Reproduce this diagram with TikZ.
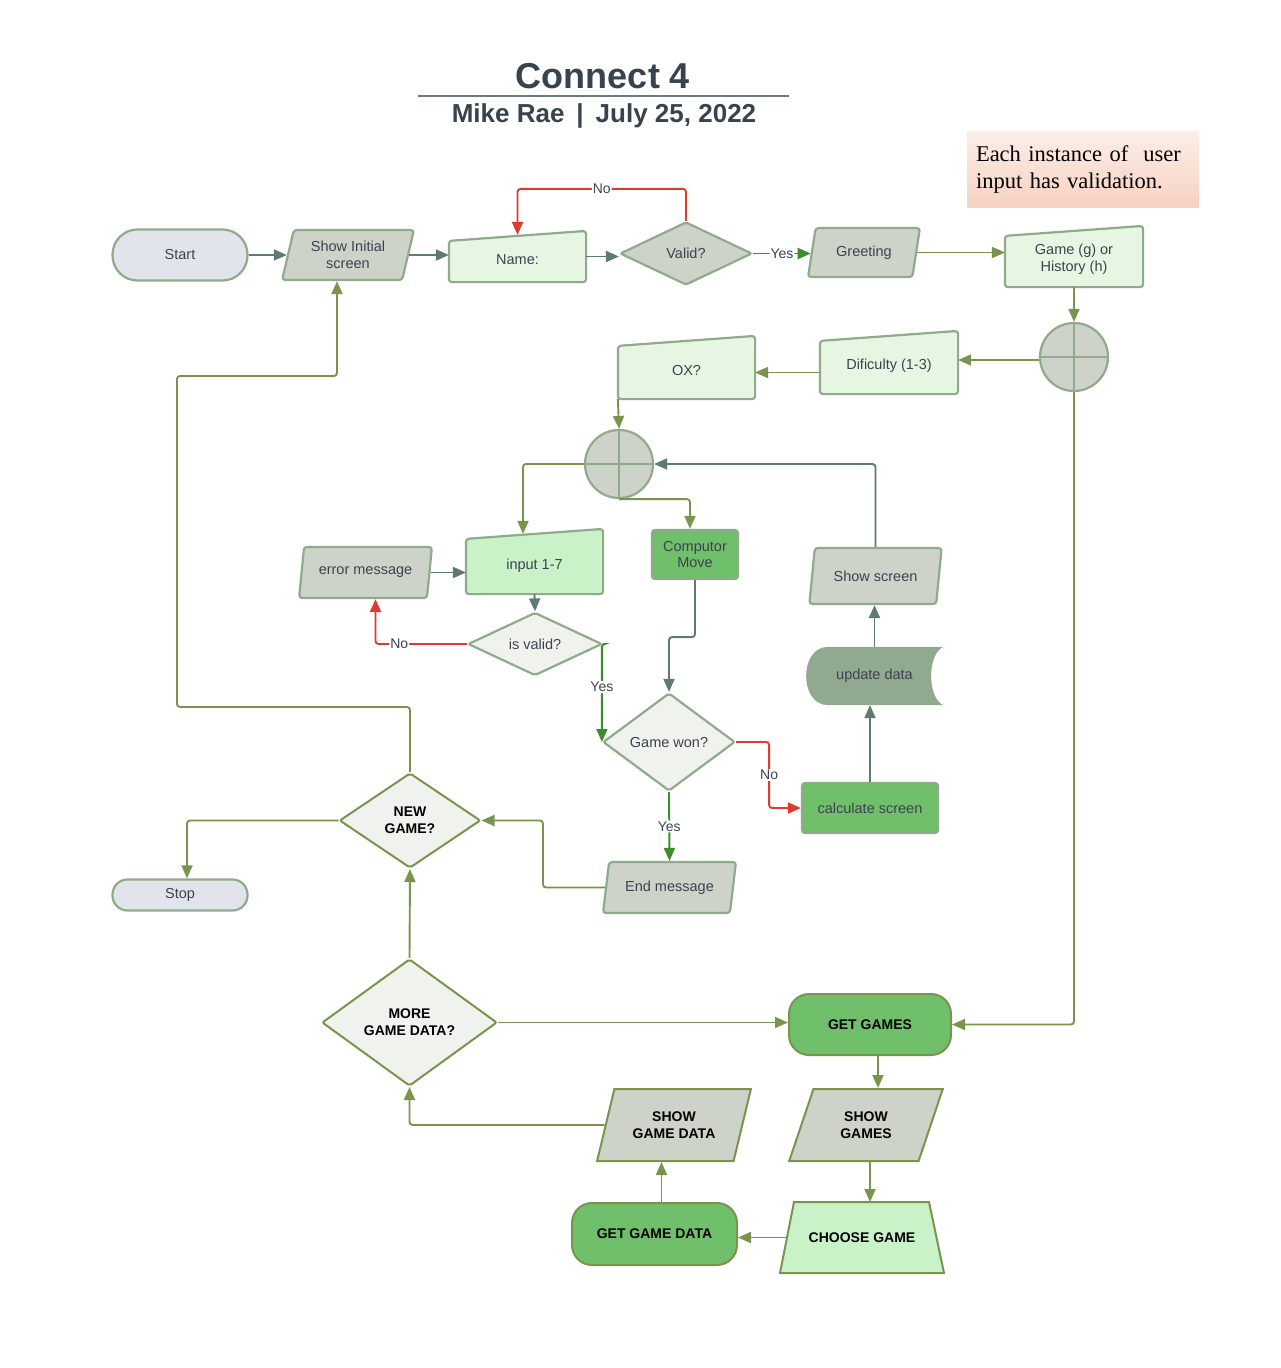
\documentclass[tikz,border=0pt]{standalone}
\usepackage{fontspec}
\setmainfont{Liberation Sans}
\newfontfamily\notefont{Liberation Serif}
\usetikzlibrary{shapes.geometric,arrows.meta,backgrounds}
\definecolor{txt}{HTML}{3C4350}
\definecolor{titlec}{HTML}{39434E}
\definecolor{bgr}{HTML}{8FAB8B}
\definecolor{termfill}{HTML}{E1E4EA}
\definecolor{grayfill}{HTML}{CDD3C8}
\definecolor{lgreen}{HTML}{E6F6E3}
\definecolor{igreen}{HTML}{C9F2C8}
\definecolor{mgreen}{HTML}{70BF6A}
\definecolor{updfill}{HTML}{91A98E}
\definecolor{diafill}{HTML}{F0F2ED}
\definecolor{olive}{HTML}{7B944D}
\definecolor{slate}{HTML}{5E7B73}
\definecolor{redc}{HTML}{E03A2E}
\definecolor{greenc}{HTML}{3A8F2C}
\definecolor{notetop}{HTML}{FBEEE8}
\definecolor{notebot}{HTML}{F7D2C1}
\definecolor{rulec}{HTML}{6E7C79}
\newcommand\mishape[2]{\path[draw=bgr, fill=#2, line width=2.2pt, rounded corners=3pt] (#1.south west) -- ([yshift=-10pt]#1.north west) -- (#1.north east) -- (#1.south east) -- cycle;}
\begin{document}
\begin{tikzpicture}[x=1pt,y=-1pt,
  base/.style={font=\fontsize{14.5}{17}\selectfont, text=txt, align=center, inner sep=2pt, line width=2.2pt},
  term/.style={base, rectangle, rounded corners=25pt, draw=bgr, fill=termfill, minimum width=135pt, minimum height=51pt},
  para/.style={base, trapezium, trapezium left angle=75, trapezium right angle=105, trapezium stretches=true, draw=bgr, fill=grayfill, rounded corners=3pt},
  minode/.style={base, rectangle, minimum width=135pt},
  mitext/.style={base},
  dia/.style={base, diamond, draw=bgr, fill=diafill, inner sep=0pt, rounded corners=2pt},
  junc/.style={circle, draw=bgr, fill=grayfill, minimum size=68pt, inner sep=0pt, line width=2.2pt},
  gbox/.style={base, rectangle, draw=bgr, fill=mgreen, rounded corners=3pt},
  bbase/.style={font=\bfseries\fontsize{14}{17}\selectfont, text=black, align=center, line width=2pt, draw=olive, inner sep=1pt},
  conn/.style={line width=1.9pt, rounded corners=3pt, -{Triangle[length=13pt,width=11pt]}},
  cO/.style={conn, draw=olive},
  cS/.style={conn, draw=slate},
  cR/.style={conn, draw=redc},
  cG/.style={conn, draw=greenc},
  lbl/.style={font=\fontsize{14}{16}\selectfont, text=txt, fill=white, inner sep=1pt}
]
\useasboundingbox (0,0) rectangle (1280,1368);

% title
\node[font=\bfseries\fontsize{36}{40}\selectfont, text=titlec] (title) at (603,76) {Connect 4};
\draw[line width=1.5pt, rulec] (418,96) -- (789,96);
\node[font=\bfseries\fontsize{26}{30}\selectfont, text=titlec] (sub) at (604,116) {Mike Rae\hspace{12pt}|\hspace{12pt}July 25, 2022};

% note
\node[top color=notetop, bottom color=notebot, minimum width=232pt, minimum height=76pt, text width=214pt, inner xsep=9pt, align=left, font=\notefont\fontsize{22.5}{27}\selectfont, text=black] (note) at (1083,169) {Each instance of\ \ user\\input has validation.};

% top row
\node[term] (start) at (180,255) {Start};
\node[para, minimum width=132pt, minimum height=50pt] (show) at (348,255) {Show Initial\\screen};
\node[minode, minimum height=49pt] (name) at (517.5,256.5) {};
\node[mitext] (namet) at ([yshift=-3pt]name.center) {Name:};
\node[dia, fill=grayfill, minimum width=132pt, minimum height=63pt] (valid) at (686,253.5) {Valid?};
\node[para, minimum width=112pt, minimum height=49pt] (greet) at (864,252.5) {Greeting};
\node[minode, minimum width=136pt, minimum height=59pt] (game) at (1074,256.5) {};
\node[mitext] (gamet) at ([yshift=-3pt]game.center) {Game (g) or\\History (h)};
\node[junc] (c1) at (1074,357) {};
\node[minode, minimum width=136pt, minimum height=61pt] (dif) at (889,362.5) {};
\node[mitext] (dift) at ([yshift=-3.5pt]dif.center) {Dificulty (1-3)};
\node[minode, minimum height=61pt] (ox) at (686.5,367.5) {};
\node[mitext] (oxt) at ([yshift=-3.5pt]ox.center) {OX?};
\node[junc] (c2) at (619,464) {};

% middle
\node[gbox, minimum width=86pt, minimum height=49pt] (cm) at (695,554.5) {Computor\\Move};
\node[minode, minimum height=63pt] (inp) at (534.5,561.5) {};
\node[mitext] (inpt) at ([yshift=-4pt]inp.center) {input 1-7};
\node[para, minimum width=133pt, minimum height=51pt] (err) at (365.5,572.5) {error message};
\node[dia, minimum width=134pt, minimum height=52pt] (isv) at (535,644) {is valid?};
\node[para, minimum width=133pt, minimum height=56pt] (ss) at (875.5,576) {Show screen};
\node[minode, minimum height=56pt] (upd) at (874.5,676) {update data};
\node[dia, minimum width=132pt, minimum height=98pt] (gw) at (669,742) {Game won?};
\node[gbox, minimum width=136pt, minimum height=50pt] (calc) at (870,808) {calculate screen};
\node[para, minimum width=133pt, minimum height=51pt] (em) at (669.5,887.5) {End message};
\node[dia, bbase, fill=diafill, minimum width=141pt, minimum height=95pt] (ng) at (410,820.5) {NEW\\GAME?};
\node[term, minimum height=31pt, rounded corners=15pt] (stop) at (180,895) {Stop};

% bottom
\node[dia, bbase, fill=diafill, minimum width=175pt, minimum height=127pt] (mgd) at (409.5,1022.5) {MORE\\GAME DATA?};
\node[bbase, rectangle, rounded corners=20pt, fill=mgreen, minimum width=162pt, minimum height=61pt] (gg) at (870,1024.5) {GET GAMES};
\node[bbase, trapezium, trapezium left angle=67, trapezium right angle=113, trapezium stretches=true, fill=grayfill, minimum width=154pt, minimum height=72pt] (sg) at (866,1125) {SHOW\\GAMES};
\node[bbase, trapezium, trapezium left angle=67, trapezium right angle=113, trapezium stretches=true, fill=grayfill, minimum width=154pt, minimum height=72pt] (sgd) at (674,1125) {SHOW\\GAME DATA};
\node[bbase, rectangle, draw=none, minimum width=162pt, minimum height=69pt] (cg) at (862,1237.5) {CHOOSE GAME};
\node[bbase, rectangle, rounded corners=20pt, fill=mgreen, minimum width=165pt, minimum height=62pt] (gd) at (654.5,1234) {GET GAME DATA};

% custom shapes behind nodes
\begin{pgfonlayer}{background}
\fill[white] (0,0) rectangle (1280,1368);
\mishape{name}{lgreen}
\mishape{game}{lgreen}
\mishape{dif}{lgreen}
\mishape{ox}{lgreen}
\mishape{inp}{igreen}
\path[fill=updfill] ([xshift=22pt]upd.north west) -- (upd.north east)
  .. controls ([xshift=-16pt,yshift=-8pt]upd.north east) and ([xshift=-16pt,yshift=8pt]upd.south east) .. (upd.south east)
  -- ([xshift=22pt]upd.south west)
  .. controls ([xshift=-7pt]upd.south west) and ([xshift=-7pt]upd.north west) .. ([xshift=22pt]upd.north west) -- cycle;
\path[draw=olive, fill=igreen, line width=2pt] (cg.south west) -- ([xshift=14pt]cg.north west) -- ([xshift=-15pt]cg.north east) -- (cg.south east) -- cycle;
\end{pgfonlayer}

% junction crosses
\draw[bgr, line width=2.2pt] (c1.north) -- (c1.south) (c1.west) -- (c1.east);
\draw[bgr, line width=2.2pt] (c2.north) -- (c2.south) (c2.west) -- (c2.east);

% connectors
\draw[cS] (start.east) -- (start.east -| show.west);
\draw[cS] (show.east) -- (show.east -| name.west);
\draw[cS] (name.east) -- (name.east -| valid.west);
\draw[cR] (valid.north) -- ++(0,-32) -| node[lbl, pos=0.25] {No} ([yshift=-4pt]name.north);
\draw[cG] (valid.east) -- node[lbl] {Yes} (valid.east -| greet.west);
\draw[cO] (greet.east) -- (greet.east -| game.west);
\draw[cO] (game.south) -- (c1.north);
\draw[cO] ([yshift=-3pt]c1.west) -- ([yshift=-3pt]c1.west -| dif.east);
\draw[cO] ([yshift=-10pt]dif.west) -- ([yshift=-10pt]dif.west -| ox.east);
\draw[cO] (ox.south west) -- (c2.north);
\draw[cO] (c2.west) -| ([xshift=-11.5pt,yshift=-5pt]inp.north);
\draw[cO] (c2.south) -| ([xshift=-5pt]cm.north);
\draw[cS] (ss.north) |- (c2.east);
\draw[cS] (err.east) -- (err.east -| inp.west);
\draw[cS] (inp.south) -- (isv.north);
\draw[cR] (isv.west) -| node[lbl, pos=0.37] {No} ([xshift=10pt]err.south);
\draw[cG] (isv.east) -| node[lbl, pos=0.72] {Yes} (gw.west);
\draw[cS] (cm.south) -- ++(0,57) -| (gw.north);
\draw[cR] (gw.east) -- ++(33,0) |- node[lbl, pos=0.25] {No} (calc.west);
\draw[cG] (gw.south) -- node[lbl] {Yes} (em.north);
\draw[cS] (calc.north) -- (calc.north |- upd.south);
\draw[cS] (upd.north) -- (upd.north |- ss.south);
\draw[cO] (em.west) -- ++(-62,0) |- (ng.east);
\draw[cO] (ng.north) -- (410,707) -- (177,707) -- (177,376) -- (337,376) -- ([xshift=-11pt]show.south);
\draw[cO] (ng.west) -| ([xshift=7pt]stop.north);
\draw[cO] (mgd.north) -- (ng.south);
\draw[cO] (mgd.east) -- (mgd.east -| gg.west);
\draw[cO] (c1.south) |- (gg.east);
\draw[cO] ([xshift=8pt]gg.south) -- ([xshift=8pt]gg.south |- sg.north);
\draw[cO] ([xshift=4pt]sg.south) -- ([xshift=4pt]sg.south |- cg.north);
\draw[cO] ([xshift=7pt]cg.west) -- (cg.west -| gd.east);
\draw[cO] ([xshift=7pt]gd.north) -- ([xshift=7pt]gd.north |- sgd.south);
\draw[cO] (sgd.west) -| (mgd.south);
\end{tikzpicture}
\end{document}
